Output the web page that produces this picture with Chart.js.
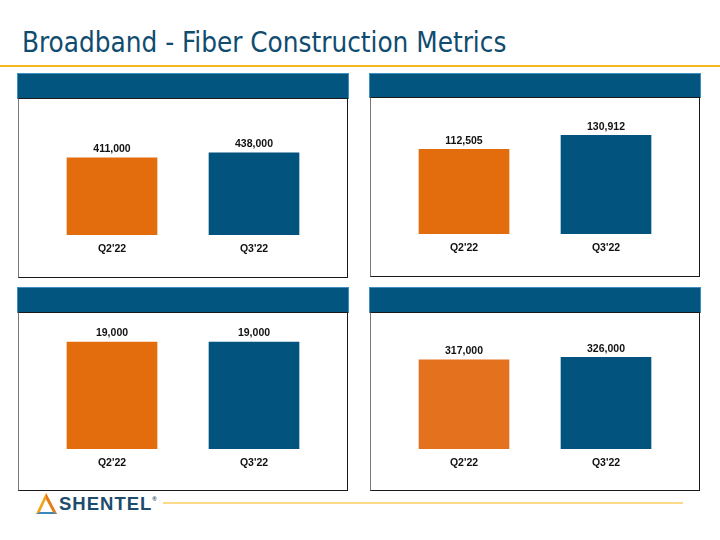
<!DOCTYPE html>
<html>
<head>
<meta charset="utf-8">
<script src="https://cdn.jsdelivr.net/npm/chart.js@4"></script>
<style>
  body { margin: 0; width: 720px; height: 540px; background: #fff; position: relative; overflow: hidden; font-family: "Liberation Sans", Arial, sans-serif; }
  .title { position: absolute; left: 22px; top: 26px; font-family: "DejaVu Sans Condensed", "DejaVu Sans", sans-serif; font-size: 27.6px; color: #0f4c70; white-space: nowrap; }
  .rule { position: absolute; left: 0; top: 65px; width: 720px; height: 2px; background: #f7b81e; }
  .head { position: absolute; background: #02557f; border: 1px solid #3e8ec0; box-sizing: border-box; }
  .box { position: absolute; border: 1px solid #1a1a1a; border-left-color: #777; box-sizing: border-box; }
  canvas { position: absolute; }
  .foot { position: absolute; left: 163px; top: 502px; width: 520px; height: 2px; background: #fdd98a; }
  .logo { position: absolute; left: 59px; top: 493px; font-family: "Liberation Sans", Arial, sans-serif; font-weight: bold; font-size: 18.5px; color: #1c4c6e; letter-spacing: 1px; }
  .logo sup { font-size: 6px; vertical-align: 9px; letter-spacing: 0; }
  .tri { position: absolute; left: 36px; top: 493px; }
</style>
</head>
<body>
<div class="title">Broadband - Fiber Construction Metrics</div>
<div class="rule"></div>

<div class="head" style="left:17px;top:73px;width:332px;height:26px"></div>
<div class="box" style="left:18px;top:98px;width:330px;height:180px"></div>
<canvas id="c1"></canvas>

<div class="head" style="left:369px;top:73px;width:332px;height:25px"></div>
<div class="box" style="left:370px;top:97px;width:330px;height:180px"></div>
<canvas id="c2"></canvas>

<div class="head" style="left:17px;top:287px;width:332px;height:26px"></div>
<div class="box" style="left:18px;top:312px;width:330px;height:179px"></div>
<canvas id="c3"></canvas>

<div class="head" style="left:369px;top:287px;width:332px;height:26px"></div>
<div class="box" style="left:370px;top:312px;width:330px;height:179px"></div>
<canvas id="c4"></canvas>

<svg class="tri" width="22" height="22" viewBox="0 0 22 22">
  <polygon points="10,0 0,21 21,21" fill="#f3a21c"/>
  <polygon points="10,6 4,19 17,19" fill="#fff"/>
  <polygon points="10,6 17,19 21,21 10,0" fill="#e57a1e"/>
  <polygon points="4,19 17,19 21,21 0,21" fill="#3f86b8"/>
</svg>
<div class="logo">SHENTEL<sup>®</sup></div>
<div class="foot"></div>

<script>
// dữ liệu
const categories = ["Q2'22", "Q3'22"];
const chart1Values = [411000, 438000];
const chart2Values = [112505, 130912];
const chart3Values = [19000, 19000];
const chart4Values = [317000, 326000];
const yMax = [623000, 155300, 20780, 415600];

const orange = "#e36c0c";
const orangeLight = "#e3711e";
const blue = "#02537d";

// vị trí các khung
const panels = [
  { id: "c1", left: 18, top: 98, height: 180, values: chart1Values, colors: [orange, blue] },
  { id: "c2", left: 370, top: 97, height: 180, values: chart2Values, colors: [orange, blue] },
  { id: "c3", left: 18, top: 312, height: 179, values: chart3Values, colors: [orange, blue] },
  { id: "c4", left: 370, top: 312, height: 179, values: chart4Values, colors: [orangeLight, blue] },
];

// vẽ số trên cột
const valueLabels = {
  id: "valueLabels",
  afterDatasetsDraw(chart) {
    const ctx = chart.ctx;
    const ds = chart.data.datasets[0];
    ctx.save();
    ctx.font = "bold 10.5px 'Liberation Sans', Arial, sans-serif";
    ctx.fillStyle = "#111";
    ctx.textAlign = "center";
    ctx.textBaseline = "middle";
    chart.getDatasetMeta(0).data.forEach((bar, i) => {
      ctx.fillText(ds.data[i].toLocaleString("en-US"), bar.x, bar.y - 8.5);
    });
    ctx.restore();
  },
};

panels.forEach((p, k) => {
  const canvas = document.getElementById(p.id);
  canvas.width = 330;
  canvas.height = p.height;
  canvas.style.left = p.left + "px";
  canvas.style.top = p.top + "px";

  new Chart(canvas.getContext("2d"), {
    type: "bar",
    data: {
      labels: categories,
      datasets: [
        {
          data: p.values,
          backgroundColor: p.colors,
          barThickness: 90,
        },
      ],
    },
    options: {
      responsive: false,
      animation: false,
      layout: { padding: { left: 23, right: 23, top: 20, bottom: 0 } },
      plugins: { legend: { display: false }, tooltip: { enabled: false } },
      scales: {
        x: {
          grid: { display: false },
          border: { display: false },
          ticks: {
            color: "#111",
            padding: 0,
            font: { family: "'Liberation Sans', Arial, sans-serif", size: 10.5, weight: "bold" },
          },
          afterFit: (s) => { s.height = p.height - 20 - 117; },
        },
        y: {
          display: false,
          min: 0,
          max: yMax[k],
        },
      },
    },
    plugins: [valueLabels],
  });
});
</script>
</body>
</html>
